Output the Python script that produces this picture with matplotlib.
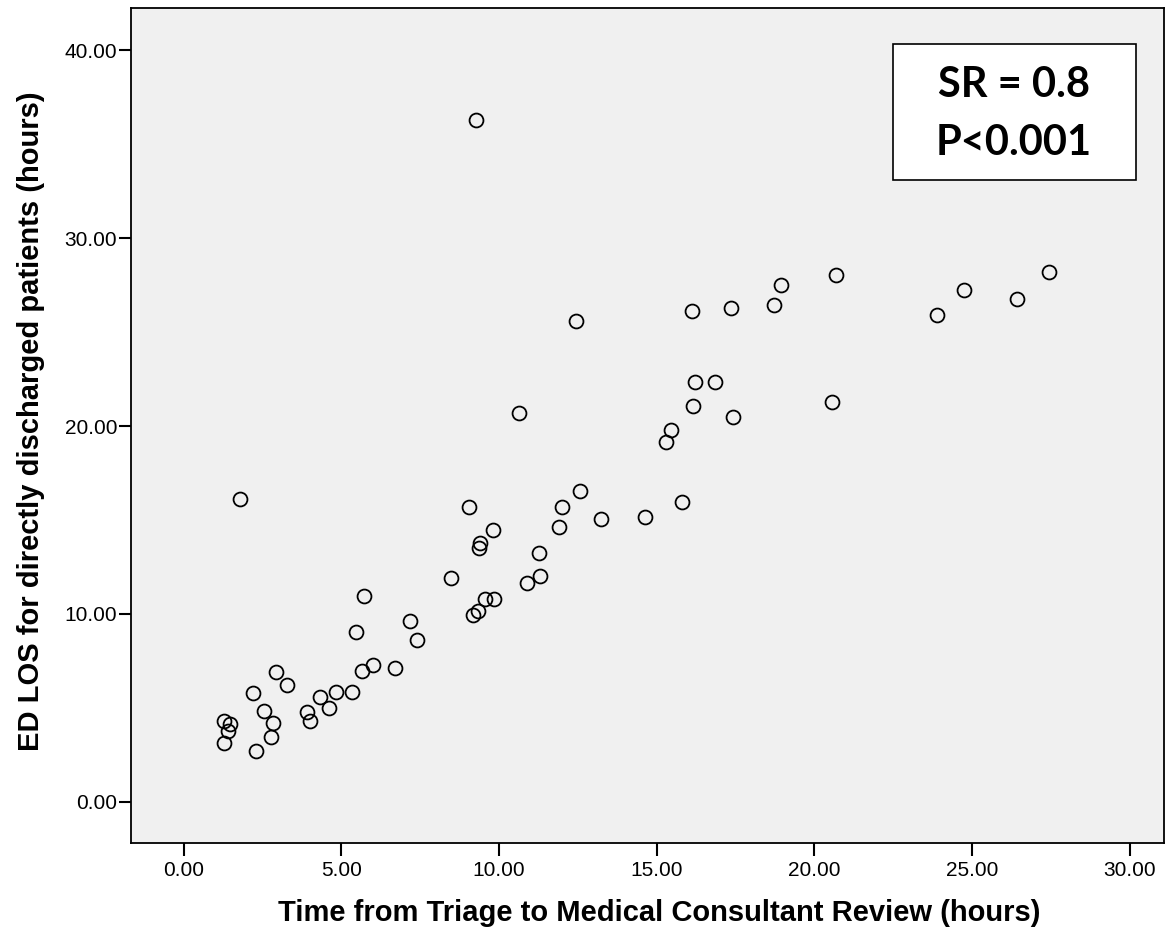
import matplotlib
matplotlib.use("Agg")
import matplotlib.pyplot as plt
from matplotlib.patches import Rectangle

# Time from triage to medical consultant review (hours)
triage_hours = [1.28, 1.46, 1.42, 1.29, 2.28, 2.19, 2.54, 2.83, 2.77, 2.93,
                3.27, 3.90, 4.00, 4.32, 4.60, 4.83, 5.33, 5.64, 5.99, 6.71,
                7.40, 7.18, 5.73, 5.48, 8.48, 9.05, 9.82, 9.41, 9.37, 9.55,
                9.85, 9.34, 9.18, 10.62, 11.27, 11.29, 10.90, 11.89, 12.01, 12.58,
                12.45, 13.23, 14.63, 15.81, 15.30, 15.46, 16.16, 16.22, 16.85, 17.42,
                16.11, 17.36, 18.73, 18.95, 20.69, 20.57, 23.90, 24.74, 26.43, 27.45,
                9.28, 1.78]
# ED length of stay for directly discharged patients (hours)
los_hours = [4.30, 4.12, 3.78, 3.13, 2.72, 5.77, 4.81, 4.21, 3.46, 6.91,
             6.21, 4.76, 4.30, 5.56, 4.99, 5.84, 5.83, 6.94, 7.28, 7.14,
             8.59, 9.60, 10.94, 9.04, 11.91, 15.71, 14.45, 13.76, 13.53, 10.78,
             10.79, 10.17, 9.94, 20.71, 13.23, 12.03, 11.66, 14.61, 15.68, 16.56,
             25.58, 15.05, 15.14, 15.94, 19.14, 19.81, 21.05, 22.35, 22.33, 20.48,
             26.13, 26.27, 26.43, 27.50, 28.06, 21.27, 25.93, 27.23, 26.78, 28.21,
             36.30, 16.10]

x_ticks = [0, 5, 10, 15, 20, 25, 30]
y_ticks = [0, 10, 20, 30, 40]
stat_lines = ["SR = 0.8", "P<0.001"]

plt.rcParams['font.family'] = ['Liberation Sans', 'DejaVu Sans']

fig = plt.figure(figsize=(11.69, 9.36), dpi=100)
ax = fig.add_axes([0.112, 0.0994, 0.8837, 0.8921])
ax.set_facecolor('#f0f0f0')

ax.plot(triage_hours, los_hours, linestyle='none', marker='o', markersize=10,
        markerfacecolor='none', markeredgecolor='black', markeredgewidth=1.3)

ax.set_xlim(-1.67, 31.08)
ax.set_ylim(-2.2, 42.26)
ax.set_xticks(x_ticks)
ax.set_yticks(y_ticks)
ax.set_xticklabels(['%.2f' % t for t in x_ticks])
ax.set_yticklabels(['%.2f' % t for t in y_ticks])
ax.tick_params(direction='out', length=9, width=1.5, labelsize=15, color='black')
ax.tick_params(axis='y', pad=1)
ax.tick_params(axis='x', pad=4)
for sp in ax.spines.values():
    sp.set_linewidth(1.3)

ax.set_xlabel('Time from Triage to Medical Consultant Review (hours)',
              fontsize=21, fontweight='bold')
ax.set_ylabel('ED LOS for directly discharged patients (hours)',
              fontsize=21, fontweight='bold')
ax.xaxis.set_label_coords(0.511, -0.067)
ax.yaxis.set_label_coords(-0.083, 0.505)

# stats box in the top right corner
box = Rectangle((892.7 / 1169, 1 - 180.3 / 936), (1136 - 892.7) / 1169, (180.3 - 43.7) / 936,
                transform=fig.transFigure, facecolor='white', edgecolor='black', linewidth=1.2)
fig.patches.append(box)
fig.text(1014 / 1169, 1 - 85 / 936, stat_lines[0], ha='center', va='center',
         fontsize=30, fontweight='bold', family='Lato')
fig.text(1014 / 1169, 1 - 143 / 936, stat_lines[1], ha='center', va='center',
         fontsize=30, fontweight='bold', family='Lato')

fig.savefig('out.png', dpi=100)
